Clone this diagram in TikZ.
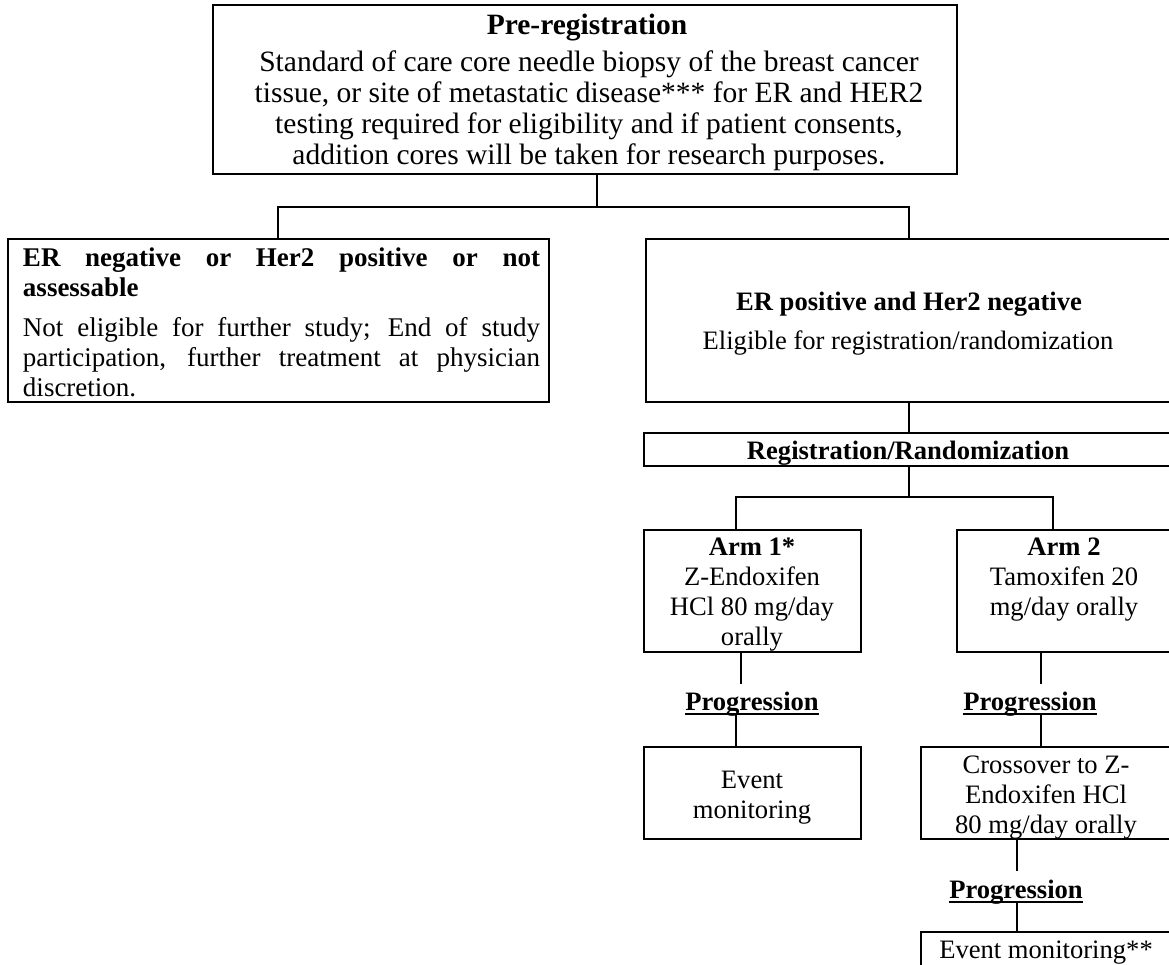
\documentclass[tikz,border=0pt]{standalone}
\usepackage{fontspec}
\setmainfont{Liberation Serif}
\usetikzlibrary{fit}
\begin{document}
\begin{tikzpicture}[x=1pt,y=-1pt,
  boxn/.style={draw, line width=2.7pt, inner sep=0pt, outer sep=0pt},
  conn/.style={draw, line width=2.7pt},
  txt/.style={inner sep=0pt, outer sep=0pt, font=\fontsize{26.6}{30}\selectfont},
  bigtxt/.style={inner sep=0pt, outer sep=0pt, font=\fontsize{29.5}{31}\selectfont},
  lefttxt/.style={inner sep=0pt, outer sep=0pt, font=\fontsize{27}{30}\selectfont},
  ul/.style={draw, line width=2pt}]
\useasboundingbox (0,0) rectangle (1169,964);
\clip (0,0) rectangle (1169,964);
% boxes
\node[boxn, fit={(213,5) (957,174)}] (top) {};
\node[boxn, fit={(8,239) (549,402)}] (left) {};
\node[boxn, fit={(646,239) (1175,402)}] (er) {};
\node[boxn, fit={(644,433) (1175,466)}] (reg) {};
\node[boxn, fit={(644,530) (861,652)}] (a1) {};
\node[boxn, fit={(957,530) (1175,652)}] (a2) {};
\node[boxn, fit={(644,747) (861,839)}] (ev1) {};
\node[boxn, fit={(921,747) (1175,839)}] (cross) {};
\node[boxn, fit={(921,932) (1175,980)}] (ev2) {};
% texts
\node[bigtxt, anchor=base] (tt1) at (587,34) {\bfseries Pre-registration};
\node[bigtxt, anchor=base] (tt2) at (589,71) {\begin{tabular}[t]{@{}c@{}}Standard of care core needle biopsy of the breast cancer\\ tissue, or site of metastatic disease*** for ER and HER2\\ testing required for eligibility and if patient consents,\\ addition cores will be taken for research purposes.\end{tabular}};
\node[lefttxt, anchor=base west] (lt1) at (23,266) {\begin{tabular}[t]{@{}l@{}}\bfseries\makebox[517pt][s]{ER negative or Her2 positive or not}\\ \bfseries assessable\end{tabular}};
\node[lefttxt, anchor=base west] (lt2) at (23,336) {\begin{tabular}[t]{@{}l@{}}\makebox[517pt][s]{Not eligible for further study; End of study}\\ \makebox[517pt][s]{participation, further treatment at physician}\\ discretion.\end{tabular}};
\node[txt, anchor=base] (ert1) at (909,310) {\bfseries ER positive and Her2 negative};
\node[txt, anchor=base] (ert2) at (908,349) {Eligible for registration/randomization};
\node[txt, anchor=base] (regt) at (908,459) {\bfseries Registration/Randomization};
\node[txt, anchor=base] (a1t) at (752,555) {\begin{tabular}[t]{@{}c@{}}\bfseries Arm 1*\\ Z-Endoxifen\\ HCl 80 mg/day\\ orally\end{tabular}};
\node[txt, anchor=base] (a2t) at (1064,555) {\begin{tabular}[t]{@{}c@{}}\bfseries Arm 2\\ Tamoxifen 20\\ mg/day orally\end{tabular}};
\node[txt, anchor=base] (ev1t) at (752,788) {\begin{tabular}[t]{@{}c@{}}Event\\ monitoring\end{tabular}};
\node[txt, anchor=base] (crt) at (1046,773) {\begin{tabular}[t]{@{}c@{}}Crossover to Z-\\ Endoxifen HCl\\ 80 mg/day orally\end{tabular}};
\node[txt, anchor=base] (ev2t) at (1046,958) {Event monitoring**};
% progression labels
\node[txt, anchor=base] (p1) at (752,710) {\bfseries Progression};
\node[txt, anchor=base] (p2) at (1030,710) {\bfseries Progression};
\node[txt, anchor=base] (p3) at (1016,898) {\bfseries Progression};
\draw[ul] ([yshift=-3.5pt]p1.base west) -- ([yshift=-3.5pt]p1.base east);
\draw[ul] ([yshift=-3.5pt]p2.base west) -- ([yshift=-3.5pt]p2.base east);
\draw[ul] ([yshift=-3.5pt]p3.base west) -- ([yshift=-3.5pt]p3.base east);
% connector points
\coordinate (j0) at (597,207);
\coordinate (jl) at (278,207);
\coordinate (jr) at (909,207);
\coordinate (ra) at (909,497);
\coordinate (rl) at (736,497);
\coordinate (rr) at (1053,497);
\coordinate (p1a) at (741,684);
\coordinate (p1b) at (736,715);
\coordinate (p2a) at (1041,684);
\coordinate (p2b) at (1041,715);
\coordinate (p3a) at (1017,871);
\coordinate (p3b) at (1017,903);
% connectors
\draw[conn] (top.south -| j0) -- (j0);
\draw[conn] (left.north -| jl) -- (jl) -- (jr) -- (er.north -| jr);
\draw[conn] (er.south -| ra) -- (reg.north -| ra);
\draw[conn] (reg.south -| ra) -- (ra);
\draw[conn] (a1.north -| rl) -- (rl) -- (rr) -- (a2.north -| rr);
\draw[conn] (a1.south -| p1a) -- (p1a);
\draw[conn] (p1b) -- (ev1.north -| p1b);
\draw[conn] (a2.south -| p2a) -- (p2a);
\draw[conn] (p2b) -- (cross.north -| p2b);
\draw[conn] (cross.south -| p3a) -- (p3a);
\draw[conn] (p3b) -- (ev2.north -| p3b);
\end{tikzpicture}
\end{document}
